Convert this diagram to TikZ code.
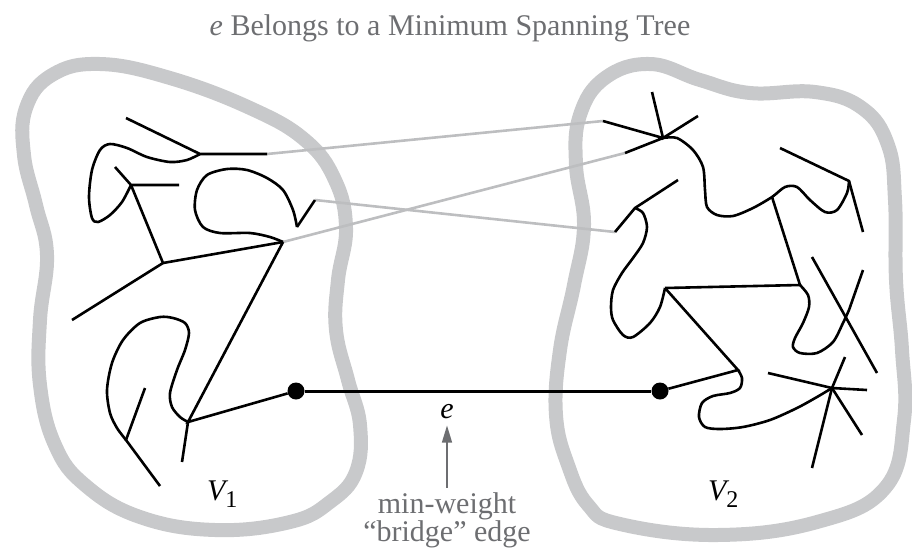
\documentclass[tikz,border=0pt]{standalone}
\usepackage{fontspec}
\setmainfont{Liberation Serif}
\usetikzlibrary{positioning,arrows.meta}
\definecolor{setgray}{HTML}{C8C9CB}
\definecolor{linkgray}{HTML}{BDBEC0}
\definecolor{textgray}{HTML}{6D6E71}

\begin{document}
\begin{tikzpicture}[x=1pt,y=-1pt,
    blob/.style={line width=14pt,draw=setgray},
    tree/.style={line width=2.6pt,draw=black},
    link/.style={line width=2.6pt,draw=linkgray},
    vtx/.style={circle,fill=black,inner sep=0pt,minimum size=17pt},
    lbl/.style={inner sep=0pt,font=\fontsize{30}{25}\selectfont,text=textgray,align=center}]
  \useasboundingbox (0,0) rectangle (912,550);
  % the two vertex sets
  \draw[blob] plot[smooth cycle,tension=0.7] coordinates {(100,64) (170,78) (250,108) (305,140) (335,180) (346,228) (338,280) (336,330) (348,380) (360,425) (356,472) (330,502) (290,522) (215,530) (140,517) (85,485) (55,445) (40,385) (40,320) (47,255) (36,205) (24,155) (26,108) (52,75)};
  \draw[blob] plot[smooth cycle,tension=0.7] coordinates {(650,64) (700,80) (750,93) (815,92) (862,108) (888,145) (895,200) (896,280) (902,350) (904,420) (885,488) (817,522) (717,535) (620,524) (588,505) (568,465) (556,415) (560,350) (574,285) (584,225) (576,165) (580,115) (605,78)};
  % tree in V1
  \coordinate (a1) at (126,118);
  \coordinate (A) at (200,154);
  \coordinate (a2) at (267,154);
  \coordinate (b1) at (115,167);
  \coordinate (B) at (131,185);
  \coordinate (b2) at (179,185);
  \coordinate (C) at (163,263);
  \coordinate (c1) at (72,320);
  \coordinate (D) at (283,242);
  \coordinate (d1) at (315,200);
  \coordinate (d2) at (297,227);
  \coordinate (E) at (188,422);
  \coordinate (e1) at (182,462);
  \coordinate (F) at (126,440);
  \coordinate (f1) at (145,388);
  \coordinate (f2) at (160,486);
  % tree in V2
  \coordinate (G) at (663,138);
  \coordinate (g1) at (652,92);
  \coordinate (g2) at (698,116);
  \coordinate (g3) at (603,121);
  \coordinate (g4) at (625,153);
  \coordinate (H) at (772,197);
  \coordinate (I) at (849,181);
  \coordinate (i1) at (780,148);
  \coordinate (i2) at (863,232);
  \coordinate (J) at (800,285);
  \coordinate (K) at (665,288);
  \coordinate (L) at (635,208);
  \coordinate (l1) at (678,180);
  \coordinate (l2) at (615,232);
  \coordinate (x1) at (812,257);
  \coordinate (x2) at (877,373);
  \coordinate (x3) at (863,270);
  \coordinate (M) at (738,370);
  \coordinate (N) at (832,388);
  \coordinate (n1) at (768,373);
  \coordinate (n2) at (867,390);
  \coordinate (n3) at (845,357);
  \coordinate (n4) at (862,435);
  \coordinate (n5) at (812,468);
  \node[vtx] (u) at (296,391) {};
  \node[vtx] (w) at (660,391) {};

  \draw[link] (a2) -- (g3);
  \draw[link] (d1) -- (l2);
  \draw[link] (D) -- (g4);

  \draw[tree] (a1) -- (A) -- (a2);
  \draw[tree] plot[smooth] coordinates {(A) (187,160) (170,162) (147,157) (127,148) (110,144) (100,150) (92,170) (89,197) (92,218) (98,222) (110,215) (122,202) (B)};
  \draw[tree] (b1) -- (B) -- (b2);
  \draw[tree] (B) -- (C) -- (D);
  \draw[tree] (C) -- (c1);
  \draw[tree] (d1) -- (d2);
  \draw[tree] plot[smooth] coordinates {(d2) (293,210) (283,190) (267,178) (247,170) (227,169) (207,175) (197,190) (195,210) (203,227) (220,233) (250,233) (270,237) (D)};
  \draw[tree] (D) -- (E) -- (u);
  \draw[tree] (E) -- (e1);
  \draw[tree] plot[smooth] coordinates {(E) (180,417) (172,407) (170,393) (177,370) (185,350) (189,333) (185,323) (173,318) (160,317) (140,323) (123,340) (112,363) (107,390) (110,413) (117,428) (F)};
  \draw[tree] (f1) -- (F) -- (f2);

  \draw[tree] (g1) -- (G) -- (g2);
  \draw[tree] (g3) -- (G) -- (g4);
  \draw[tree] plot[smooth] coordinates {(G) (677,138) (693,150) (703,167) (705,190) (707,207) (717,215) (733,216) (753,208) (H) (785,187) (797,187) (810,200) (825,212) (837,210) (847,193) (I)};
  \draw[tree] (i1) -- (I) -- (i2);
  \draw[tree] (H) -- (J) -- (K);
  \draw[tree] plot[smooth] coordinates {(J) (808,295) (809,307) (803,323) (795,338) (793,347) (800,353) (817,353) (833,342) (843,323) (849,310)} -- (x3);
  \draw[tree] (x1) -- (x2);
  \draw[tree] (l1) -- (L) -- (l2);
  \draw[tree] plot[smooth] coordinates {(L) (643,213) (647,227) (643,243) (633,258) (622,273) (613,290) (611,307) (613,320) (623,335) (633,337) (650,323) (660,307) (K)};
  \draw[tree] (K) -- (M) -- (w);
  \draw[tree] plot[smooth] coordinates {(M) (742,378) (740,388) (730,393) (713,396) (702,403) (699,417) (705,427) (720,429) (743,427) (770,420) (797,408) (817,397) (N)};
  \draw[tree] (n1) -- (N) -- (n2);
  \draw[tree] (n3) -- (N) -- (n4);
  \draw[tree] (N) -- (n5);

  \draw[tree,line width=3pt] (u) -- (w);

  \node[lbl,anchor=base] (title) at (450,35) {\textit{e} Belongs to a Minimum Spanning Tree};
  \node[lbl,anchor=base,text=black] (elbl) at (447,418) {\textit{e}};
  \node[lbl,below=74pt of elbl] (bridge) {min-weight\\``bridge'' edge};
  \draw[-{Triangle[length=17pt,width=10pt]},line width=1.3pt,textgray,
        shorten <=5pt,shorten >=7pt] (bridge) -- (elbl);
  \node[lbl,anchor=base west,text=black] (v1) at (207,500) {\textit{V}\kern-3pt\raisebox{-7pt}{\fontsize{24}{24}\selectfont 1}};
  \node[lbl,anchor=base west,text=black] (v2) at (708,500) {\textit{V}\kern-3pt\raisebox{-7pt}{\fontsize{24}{24}\selectfont 2}};
\end{tikzpicture}
\end{document}
